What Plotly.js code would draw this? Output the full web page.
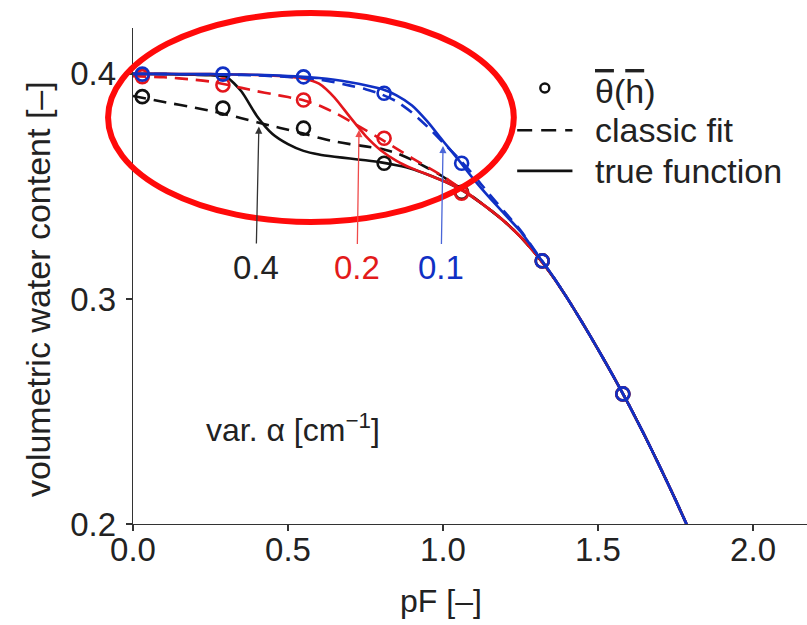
<!DOCTYPE html>
<html>
<head>
<meta charset="utf-8">
<script src="https://cdn.plot.ly/plotly-3.0.1.min.js"></script>
<style>
  html, body { margin: 0; padding: 0; background: #fff; }
  #chart { width: 807px; height: 625px; }
</style>
</head>
<body>
<div id="chart"></div>
<script>
// Retention curves theta(pF) for three alpha values: true function, classic fit, averaged points
const pF = [0.00, 0.10, 0.20, 0.25, 0.30, 0.35, 0.40, 0.45, 0.50, 0.55, 0.60, 0.65, 0.70, 0.75,
            0.80, 0.85, 0.90, 0.95, 1.00, 1.05, 1.10, 1.15, 1.20, 1.25, 1.30, 1.35, 1.40, 1.45,
            1.50, 1.55, 1.60, 1.65, 1.70, 1.75, 1.80];

// alpha = 0.4 cm^-1
const trueA04 = [0.4000, 0.3999, 0.3996, 0.3994, 0.3988, 0.3922, 0.3812, 0.3733, 0.3688, 0.3658, 0.3642, 0.3632, 0.3624, 0.3616,
                 0.3607, 0.3594, 0.3578, 0.3553, 0.3525, 0.3492, 0.3448, 0.3398, 0.3342, 0.3276, 0.3198, 0.3108, 0.3005, 0.2893,
                 0.2776, 0.2655, 0.2528, 0.2394, 0.2253, 0.2107, 0.1955];
const fitA04  = [0.3902, 0.3875, 0.3850, 0.3836, 0.3820, 0.3803, 0.3785, 0.3768, 0.3752, 0.3735, 0.3716, 0.3700, 0.3688, 0.3678,
                 0.3667, 0.3648, 0.3618, 0.3582, 0.3543, 0.3497, 0.3450, 0.3398, 0.3342, 0.3276, 0.3198, 0.3108, 0.3005, 0.2893,
                 0.2776, 0.2655, 0.2528, 0.2394, 0.2253, 0.2107, 0.1955];

// alpha = 0.2 cm^-1
const trueA02 = [0.4000, 0.4000, 0.3999, 0.3999, 0.3998, 0.3997, 0.3995, 0.3992, 0.3988, 0.3980, 0.3957, 0.3895, 0.3808, 0.3725,
                 0.3660, 0.3614, 0.3580, 0.3553, 0.3525, 0.3492, 0.3448, 0.3398, 0.3342, 0.3276, 0.3198, 0.3108, 0.3005, 0.2893,
                 0.2776, 0.2655, 0.2528, 0.2394, 0.2253, 0.2107, 0.1955];
const fitA02  = [0.3990, 0.3985, 0.3974, 0.3966, 0.3953, 0.3938, 0.3923, 0.3910, 0.3897, 0.3883, 0.3860, 0.3828, 0.3790, 0.3750,
                 0.3710, 0.3668, 0.3626, 0.3586, 0.3545, 0.3498, 0.3450, 0.3398, 0.3342, 0.3276, 0.3198, 0.3108, 0.3005, 0.2893,
                 0.2776, 0.2655, 0.2528, 0.2394, 0.2253, 0.2107, 0.1955];

// alpha = 0.1 cm^-1
const trueA01 = [0.4000, 0.4000, 0.3999, 0.3999, 0.3998, 0.3997, 0.3996, 0.3994, 0.3991, 0.3987, 0.3982, 0.3974, 0.3963, 0.3950,
                 0.3934, 0.3905, 0.3860, 0.3788, 0.3702, 0.3618, 0.3530, 0.3450, 0.3375, 0.3300, 0.3205, 0.3110, 0.3005, 0.2893,
                 0.2776, 0.2655, 0.2528, 0.2394, 0.2253, 0.2107, 0.1955];
const fitA01  = [0.4000, 0.3999, 0.3998, 0.3997, 0.3996, 0.3995, 0.3993, 0.3990, 0.3987, 0.3983, 0.3975, 0.3963, 0.3948, 0.3932,
                 0.3910, 0.3878, 0.3828, 0.3765, 0.3695, 0.3625, 0.3548, 0.3465, 0.3385, 0.3305, 0.3208, 0.3110, 0.3005, 0.2893,
                 0.2776, 0.2655, 0.2528, 0.2394, 0.2253, 0.2107, 0.1955];

// averaged points theta_bar(h_bar)
const pFmean  = [0.03, 0.29, 0.55, 0.81, 1.06, 1.32, 1.58];
const meanA04 = [0.3899, 0.3848, 0.3759, 0.3603, 0.3474, 0.3169, 0.2578];
const meanA02 = [0.3988, 0.3951, 0.3884, 0.3714, 0.3470, 0.3169, 0.2578];
const meanA01 = [0.3999, 0.3999, 0.3987, 0.3914, 0.3603, 0.3169, 0.2578];

const alphaLabels = ['0.4', '0.2', '0.1'];
const legendNames = ['<span style="text-decoration:overline">θ</span>(<span style="text-decoration:overline">h</span>)',
                     'classic fit', 'true function'];

const FONT = 'Liberation Sans, Arial, Helvetica, sans-serif';
const BLACK = '#111111', RED = '#e3161c', BLUE = '#1030c4';
const DASH = '13px,8px';
const LW = 2.6;

function curve(y, color, dash) {
  return { x: pF, y: y, type: 'scatter', mode: 'lines', showlegend: false, hoverinfo: 'skip',
           line: { color: color, width: LW, dash: dash, shape: 'spline', smoothing: 0.6 } };
}
function points(y, color) {
  return { x: pFmean, y: y, type: 'scatter', mode: 'markers', showlegend: false, hoverinfo: 'skip',
           marker: { symbol: 'circle-open', size: 13, color: color, line: { width: 2.6, color: color } } };
}

const traces = [
  curve(fitA04, BLACK, DASH), curve(trueA04, BLACK, 'solid'), points(meanA04, BLACK),
  curve(fitA02, RED, DASH),   curve(trueA02, RED, 'solid'),   points(meanA02, RED),
  curve(fitA01, BLUE, DASH),  curve(trueA01, BLUE, 'solid'),  points(meanA01, BLUE)
];

const tickFont = { family: FONT, size: 33, color: '#222' };

function arrowNote(label, x, y, ax, ay, textColor, arrowColor) {
  return { x: x, y: y, xref: 'x', yref: 'y', text: label, showarrow: true,
           ax: ax, ay: ay, axref: 'pixel', ayref: 'pixel',
           arrowhead: 2, arrowsize: 1.1, arrowwidth: 1.3, arrowcolor: arrowColor,
           startstandoff: 4, font: { family: FONT, size: 33, color: textColor } };
}

// legend key block (paper coordinates, right of the curves)
const keyX0 = 0.570, keyX1 = 0.652, keyTextX = 0.683;
const keyRows = [0.873, 0.794, 0.712];

function keyText(i) {
  return { xref: 'paper', yref: 'paper', x: keyTextX, y: keyRows[i], text: legendNames[i],
           showarrow: false, xanchor: 'left', yanchor: 'middle',
           font: { family: FONT, size: 34, color: '#222' } };
}

const layout = {
  width: 807, height: 625,
  margin: { l: 133, r: 0, t: 28, b: 101 },
  paper_bgcolor: '#ffffff', plot_bgcolor: '#ffffff',
  showlegend: false,
  xaxis: { range: [0, 2.174], tick0: 0, dtick: 0.5, tickformat: '.1f',
           ticks: 'outside', ticklen: 6, tickwidth: 1.2, tickcolor: '#333',
           showline: true, linecolor: '#333', linewidth: 1.3, showgrid: false, zeroline: false,
           tickfont: tickFont, ticklabelstandoff: -10 },
  yaxis: { range: [0.2, 0.4204], tick0: 0.2, dtick: 0.1, tickformat: '.1f',
           ticks: 'outside', ticklen: 6, tickwidth: 1.2, tickcolor: '#333',
           showline: true, linecolor: '#333', linewidth: 1.3, showgrid: false, zeroline: false,
           tickfont: tickFont, ticklabelstandoff: 3 },
  shapes: [
    // highlighting ellipse around the wet end
    { type: 'circle', xref: 'paper', yref: 'paper', x0: -0.037, x1: 0.565, y0: 0.609, y1: 1.030,
      line: { color: '#ff0a0a', width: 6 }, fillcolor: 'rgba(0,0,0,0)' },
    // legend keys
    { type: 'circle', xref: 'paper', yref: 'paper', xsizemode: 'pixel', ysizemode: 'pixel',
      xanchor: (keyX0 + keyX1) / 2, yanchor: 0.879, x0: -4.5, x1: 4.5, y0: -4.5, y1: 4.5,
      line: { color: BLACK, width: 2.4 }, fillcolor: 'rgba(0,0,0,0)' },
    { type: 'line', xref: 'paper', yref: 'paper', x0: keyX0, x1: keyX1, y0: keyRows[1], y1: keyRows[1],
      line: { color: BLACK, width: LW, dash: '15px,9px' } },
    { type: 'line', xref: 'paper', yref: 'paper', x0: keyX0, x1: keyX1, y0: keyRows[2], y1: keyRows[2],
      line: { color: BLACK, width: LW } }
  ],
  annotations: [
    { xref: 'paper', yref: 'paper', x: 0.457, y: -0.155, text: 'pF [–]', showarrow: false,
      xanchor: 'center', yanchor: 'middle', font: { family: FONT, size: 32, color: '#222' } },
    { xref: 'paper', yref: 'paper', x: -0.14, y: 0.473, text: 'volumetric water content [–]',
      showarrow: false, textangle: -90, xanchor: 'center', yanchor: 'middle',
      font: { family: FONT, size: 34, color: '#222' } },
    { xref: 'paper', yref: 'paper', x: 0.237, y: 0.194, text: 'var. α [cm<sup>−1</sup>]', showarrow: false,
      xanchor: 'center', yanchor: 'middle', font: { family: FONT, size: 32, color: '#222' } },
    arrowNote(alphaLabels[0], 0.406, 0.3766, -3, 141, '#222', '#333'),
    arrowNote(alphaLabels[1], 0.729, 0.3751, -2, 138, '#e31a1a', '#ef4a4a'),
    arrowNote(alphaLabels[2], 1.000, 0.3680, -2, 122, '#1030c4', '#4a66d8'),
    keyText(0), keyText(1), keyText(2)
  ]
};

Plotly.newPlot('chart', traces, layout, { staticPlot: true, displayModeBar: false });
</script>
</body>
</html>
